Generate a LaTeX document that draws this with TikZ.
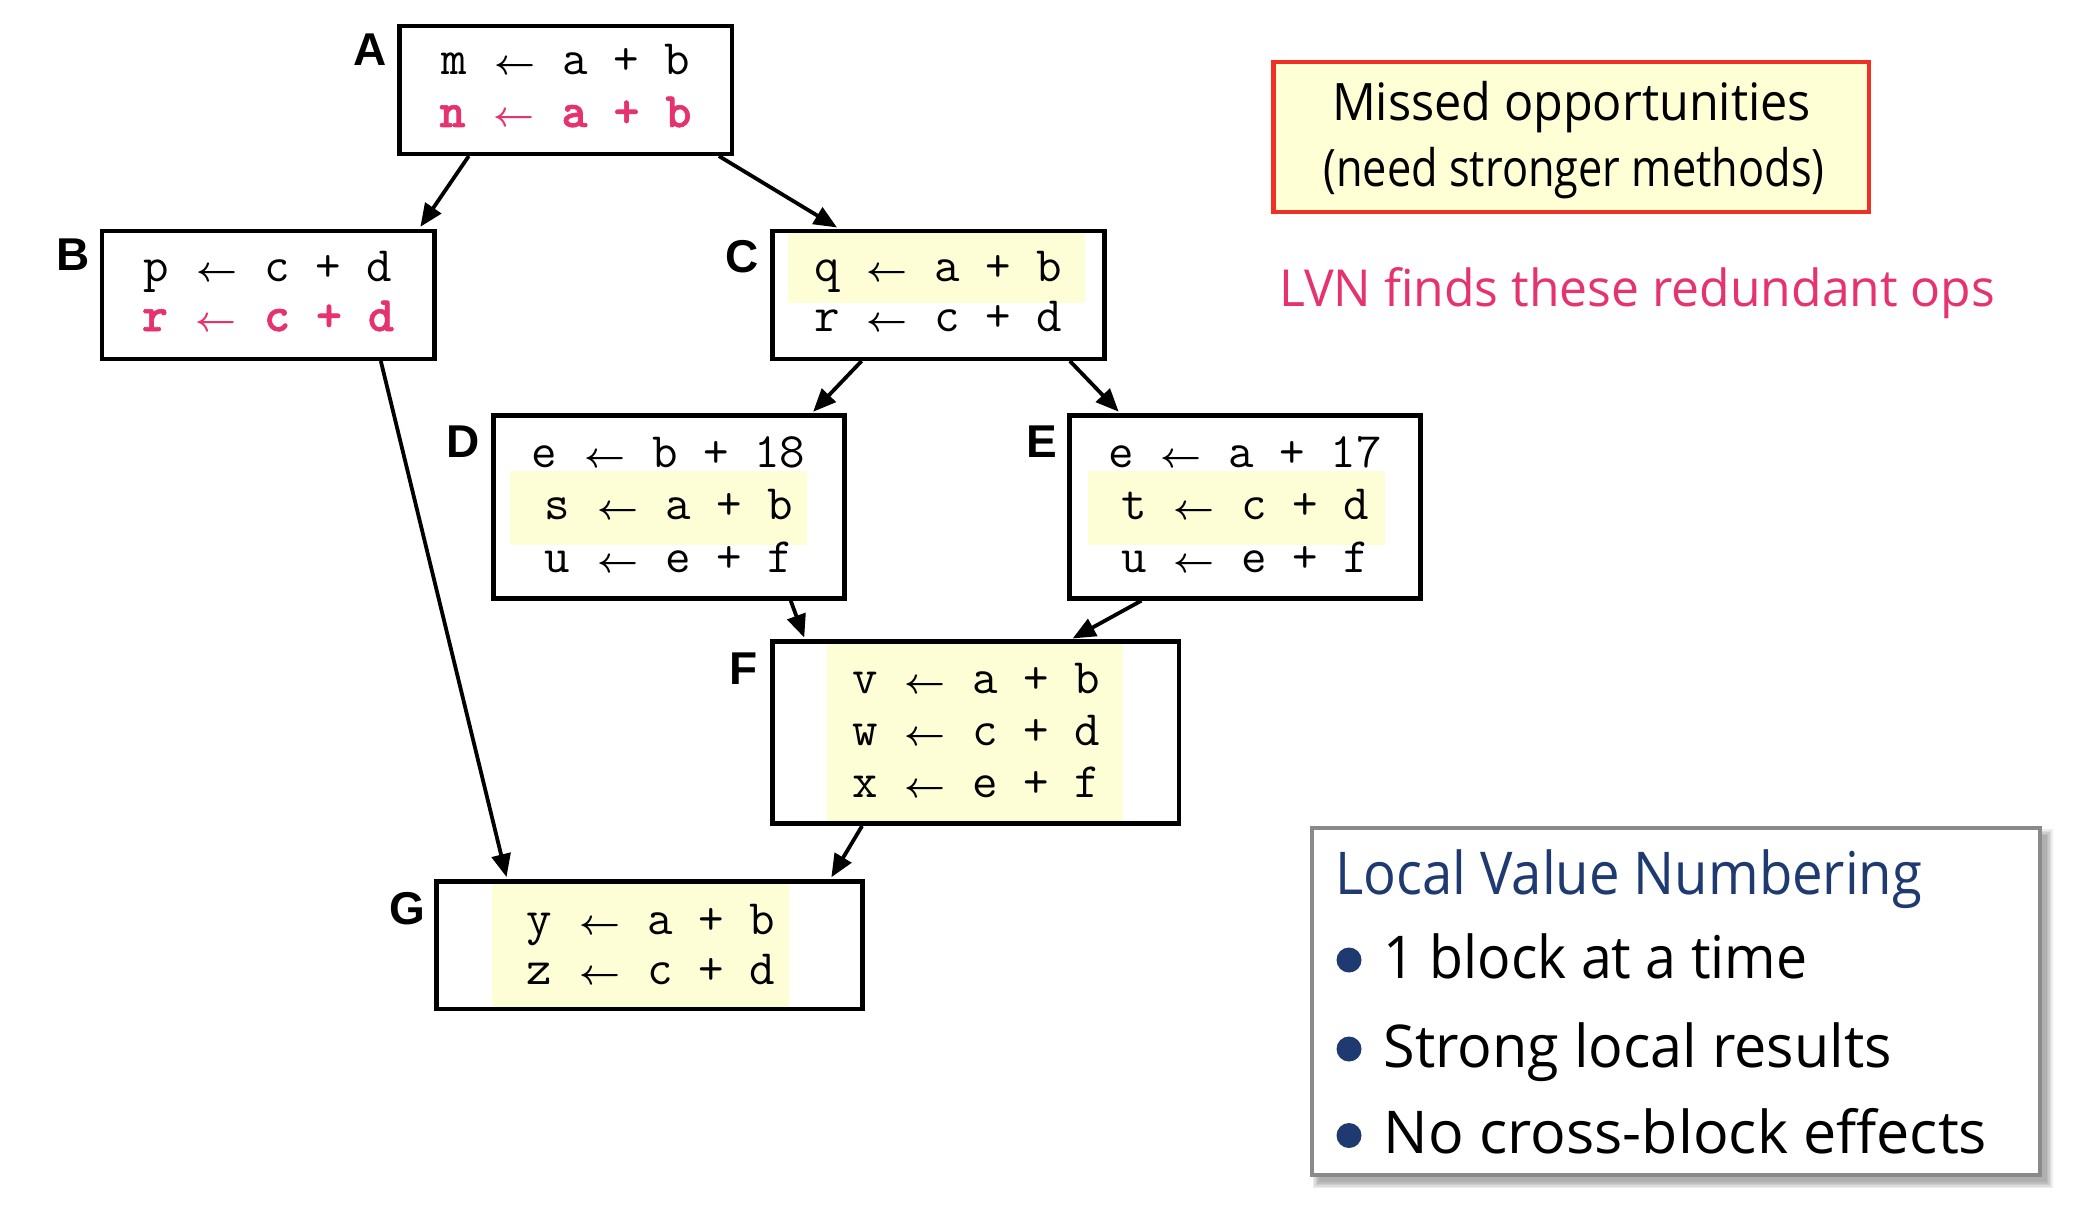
\documentclass[tikz,border=0pt]{standalone}
\usepackage{fontspec}
\usepackage{graphicx}
\usetikzlibrary{arrows.meta,calc}
\newfontfamily\lblfont{Liberation Sans}
\newfontfamily\handfont{Open Sans}
\newfontfamily\codeboldfont{lmmonolt10-bold.otf}[FakeBold=1.3]
\definecolor{codered}{HTML}{E6326E}
\definecolor{missedred}{HTML}{EE3124}
\definecolor{paleyellow}{HTML}{FFFFD5}
\definecolor{hlyellow}{HTML}{FDFDD6}
\definecolor{navy}{HTML}{1E3A70}
\definecolor{boxgrey}{HTML}{8A8A8A}
\newcommand\myarr{\makebox[44pt]{\resizebox{41pt}{!}{\boldmath$\leftarrow$}}}
\tikzset{
  blk/.style={draw=black, line width=4.5pt, rectangle, inner sep=0pt},
  code/.style={inner sep=0pt, anchor=base, font=\fontsize{49.52pt}{52pt}\selectfont\ttfamily},
  codeb/.style={code, text=codered, font=\fontsize{49.52pt}{52pt}\selectfont\codeboldfont},
  lbl/.style={inner sep=0pt, anchor=base, font=\fontsize{46pt}{50pt}\selectfont\lblfont\bfseries},
  edge/.style={line width=3.8pt, -{Triangle[length=23pt,width=19pt]}, shorten >=2pt},
  hand/.style={inner sep=0pt},
  bul/.style={circle, fill=navy, inner sep=0pt, minimum size=25pt}
}
\begin{document}
\begin{tikzpicture}[x=1pt,y=-1pt]
\useasboundingbox (0,0) rectangle (2084,1212);
\fill[white] (0,0) rectangle (2084,1212);

% highlights
\fill[hlyellow] (788.4,232.5) rectangle (1085.4,302.5);
\fill[hlyellow] (510.1,471.3) rectangle (806.9,545);
\fill[hlyellow] (1087.5,471.3) rectangle (1385,545);
\fill[hlyellow] (826.7,641.5) rectangle (1123.3,824);
\fill[hlyellow] (491.7,881) rectangle (789.3,1009);

% blocks
\node[blk, minimum width=332.5, minimum height=127.75] (A) at (565.5,89.9) {};
\node[blk, minimum width=332.5, minimum height=128] (B) at (268.25,294.75) {};
\node[blk, minimum width=332, minimum height=128] (C) at (938.3,294.75) {};
\node[blk, minimum width=351, minimum height=183] (D) at (668.8,507) {};
\node[blk, minimum width=351, minimum height=183] (E) at (1245.2,506.9) {};
\node[blk, minimum width=406.5, minimum height=182] (F) at (975.5,732.7) {};
\node[blk, minimum width=426, minimum height=127.5] (G) at (649.5,945) {};

% labels
\node[lbl] (lA) at (370.5,66) {A};
\node[lbl] (lB) at (73,270) {B};
\node[lbl] (lC) at (742.5,272) {C};
\node[lbl] (lD) at (463,457) {D};
\node[lbl] (lE) at (1041.5,457.7) {E};
\node[lbl] (lF) at (743.5,684) {F};
\node[lbl] (lG) at (407.5,924) {G};

% code
\node[code] (a1) at (565.5,75) {m \myarr{} a + b};
\node[codeb] (a2) at (565.5,127) {n \myarr{} a + b};
\node[code] (b1) at (268,281) {p \myarr{} c + d};
\node[codeb] (b2) at (268,331) {r \myarr{} c + d};
\node[code] (c1) at (938,281) {q \myarr{} a + b};
\node[code] (c2) at (938,331) {r \myarr{} c + d};
\node[code] (d1) at (668.5,467.5) {e \myarr{} b + 18};
\node[code] (d2) at (668.5,519) {s \myarr{} a + b};
\node[code] (d3) at (668.5,572) {u \myarr{} e + f};
\node[code] (e1) at (1245,467.5) {e \myarr{} a + 17};
\node[code] (e2) at (1245,519) {t \myarr{} c + d};
\node[code] (e3) at (1245,572) {u \myarr{} e + f};
\node[code] (f1) at (976,693.3) {v \myarr{} a + b};
\node[code] (f2) at (976,745) {w \myarr{} c + d};
\node[code] (f3) at (976,797) {x \myarr{} e + f};
\node[code] (g1) at (650.5,934) {y \myarr{} a + b};
\node[code] (g2) at (650.5,984) {z \myarr{} c + d};

% edges
\draw[edge] ($(A.south west)!0.213!(A.south east)$) -- ($(B.north west)!0.948!(B.north east)$);
\draw[edge] ($(A.south west)!0.955!(A.south east)$) -- ($(C.north west)!0.204!(C.north east)$);
\draw[edge] ($(B.south west)!0.834!(B.south east)$) -- ($(G.north west)!0.169!(G.north east)$);
\draw[edge] ($(C.south west)!0.272!(C.south east)$) -- ($(D.north west)!0.902!(D.north east)$);
\draw[edge] ($(C.south west)!0.891!(C.south east)$) -- ($(E.north west)!0.148!(E.north east)$);
\draw[edge] ($(D.south west)!0.843!(D.south east)$) -- ($(F.north west)!0.085!(F.north east)$);
\draw[edge] ($(E.south west)!0.208!(E.south east)$) -- ($(F.north west)!0.732!(F.north east)$);
\draw[edge] ($(F.south west)!0.224!(F.south east)$) -- ($(G.north west)!0.92!(G.north east)$);

% missed opportunities box
\node[draw=missedred, fill=paleyellow, line width=4.5pt, inner sep=0pt, minimum width=595.5, minimum height=149.5] (miss) at (1571,137) {};
\node[hand, anchor=base, font=\fontsize{51.6pt}{56pt}\selectfont\handfont] (m1) at (1571.5,120.7) {\resizebox{479pt}{\height}{Missed opportunities}};
\node[hand, anchor=base, font=\fontsize{51.6pt}{56pt}\selectfont\handfont] (m2) at (1574,186.7) {\resizebox{501pt}{\height}{(need stronger methods)}};

\node[hand, anchor=base west, text=codered, font=\fontsize{51pt}{56pt}\selectfont\handfont] (lvnred) at (1279,306.7) {\resizebox{716pt}{\height}{LVN finds these redundant ops}};

% LVN box with shadow
\foreach \s in {0,1.5,3,4.5,6}
  \fill[black,opacity=0.07] ({1318.5-\s},{835-\s}) rectangle ({2046.7+\s},{1182+\s});
\node[draw=boxgrey, fill=white, line width=4pt, inner sep=0pt, minimum width=728.2, minimum height=347] (lvn) at (1675.6,1001.5) {};
\node[hand, anchor=base west, text=navy, font=\fontsize{59pt}{64pt}\selectfont\handfont] (lvnt) at (1335,894) {\resizebox{587pt}{\height}{Local Value Numbering}};
\node[bul] (bu1) at (1349,960) {};
\node[bul] (bu2) at (1349,1049) {};
\node[bul] (bu3) at (1349,1135.5) {};
\node[hand, anchor=base west, font=\fontsize{59pt}{64pt}\selectfont\handfont] (it1) at (1383.5,978) {\resizebox{423.5pt}{\height}{1 block at a time}};
\node[hand, anchor=base west, font=\fontsize{59pt}{64pt}\selectfont\handfont] (it2) at (1383.5,1067.6) {\resizebox{508pt}{\height}{Strong local results}};
\node[hand, anchor=base west, font=\fontsize{59pt}{64pt}\selectfont\handfont] (it3) at (1383.5,1153) {\resizebox{603.5pt}{\height}{No cross-block effects}};
\end{tikzpicture}
\end{document}
